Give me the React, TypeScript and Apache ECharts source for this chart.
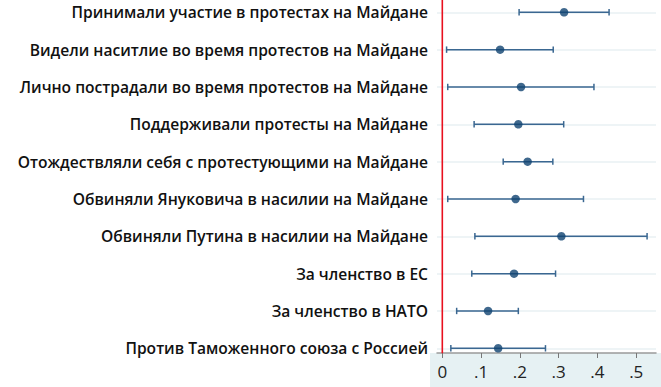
import React, { useEffect, useRef } from "react";
import * as echarts from "echarts";

const categories = [
  "Принимали участие в протестах на Майдане",
  "Видели наситлие во время протестов на Майдане",
  "Лично пострадали во время протестов на Майдане",
  "Поддерживали протесты на Майдане",
  "Отождествляли себя с протестующими на Майдане",
  "Обвиняли Януковича в насилии на Майдане",
  "Обвиняли Путина в насилии на Майдане",
  "За членство в ЕС",
  "За членство в НАТО",
  "Против Таможенного союза с Россией",
];
const estimates = [0.314, 0.149, 0.203, 0.196, 0.22, 0.189, 0.307, 0.185, 0.118, 0.144];
const lower = [0.198, 0.011, 0.014, 0.082, 0.157, 0.014, 0.084, 0.076, 0.037, 0.022];
const upper = [0.43, 0.286, 0.391, 0.313, 0.285, 0.364, 0.528, 0.292, 0.196, 0.266];
const tickValues = [0, 0.1, 0.2, 0.3, 0.4, 0.5];

export default function App() {
  const ref = useRef<HTMLDivElement>(null);
  useEffect(() => {
    if (!ref.current) return;
    const chart = echarts.init(ref.current, null, { renderer: "svg" });
    const font = "'Open Sans', 'Noto Sans', sans-serif";
    chart.setOption({
      animation: false,
      backgroundColor: "#ffffff",
      graphic: [
        {
          type: "rect",
          z: -10,
          silent: true,
          shape: { x: 430, y: 353, width: 231, height: 34 },
          style: { fill: "#e6f1f3" },
        },
      ],
      grid: { left: 437, right: 5, top: 12.3, bottom: 38.7, containLabel: false },
      xAxis: {
        type: "value",
        min: -0.0137,
        max: 0.551,
        offset: 4.7,
        axisLine: { show: true, lineStyle: { color: "#9a9a9a", width: 1.5 } },
        axisTick: { show: true, length: 5, lineStyle: { color: "#777", width: 1 }, customValues: tickValues },
        axisLabel: {
          customValues: tickValues,
          margin: 10,
          fontSize: 17,
          fontFamily: font,
          color: "#222",
          formatter: (v: number) => (v === 0 ? "0" : String(Math.round(v * 10) / 10).replace(/^0/, "")),
        },
        splitLine: { show: false },
      },
      yAxis: {
        type: "category",
        data: categories,
        inverse: true,
        boundaryGap: false,
        axisLine: { show: false },
        axisTick: { show: false },
        axisLabel: {
          margin: 9,
          fontSize: 15.6,
          fontWeight: 600,
          fontFamily: font,
          color: "#111",
        },
        splitLine: { show: true, lineStyle: { color: "#e8f1f3", width: 1.5 } },
      },
      series: [
        {
          type: "custom",
          z: 1,
          data: [[0, 0]],
          renderItem: (params: any, api: any) => {
            const p = api.coord([api.value(0), 0]);
            const cs = params.coordSys;
            return {
              type: "line",
              shape: { x1: p[0], y1: cs.y - 13, x2: p[0], y2: cs.y + cs.height + 5 },
              style: { stroke: "#e8101e", lineWidth: 1.6 },
            };
          },
        },
        {
          type: "custom",
          z: 2,
          data: categories.map((c, i) => [lower[i], upper[i], i]),
          encode: { x: [0, 1], y: 2 },
          renderItem: (params: any, api: any) => {
            const a = api.coord([api.value(0), api.value(2)]);
            const b = api.coord([api.value(1), api.value(2)]);
            const h = 3.2;
            const style = { stroke: "#3a6791", lineWidth: 1.5 };
            return {
              type: "group",
              children: [
                { type: "line", shape: { x1: a[0], y1: a[1], x2: b[0], y2: b[1] }, style },
                { type: "line", shape: { x1: a[0], y1: a[1] - h, x2: a[0], y2: a[1] + h }, style },
                { type: "line", shape: { x1: b[0], y1: b[1] - h, x2: b[0], y2: b[1] + h }, style },
              ],
            };
          },
        },
        {
          type: "scatter",
          z: 3,
          symbol: "circle",
          symbolSize: 8.5,
          itemStyle: { color: "#0f4270" },
          data: categories.map((c, i) => [estimates[i], i]),
        },
      ],
    });
    return () => chart.dispose();
  }, []);
  return (
    <div
      ref={ref}
      style={{ position: "fixed", left: 0, top: 0, width: 661, height: 387 }}
    />
  );
}
